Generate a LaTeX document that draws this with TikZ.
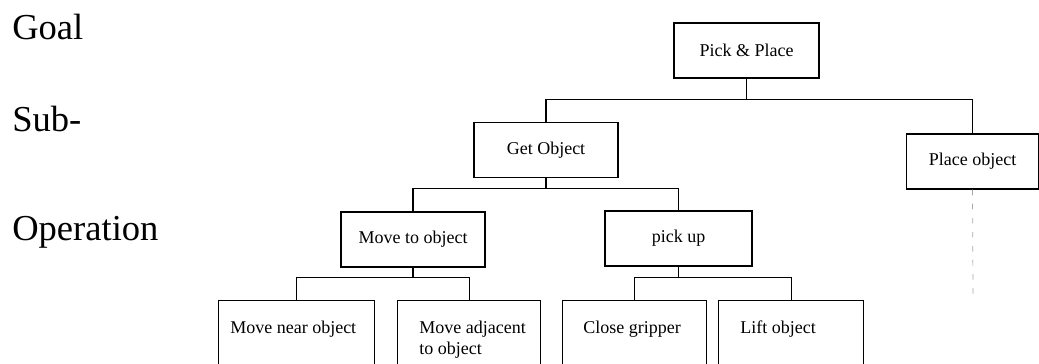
\documentclass[tikz,border=0pt]{standalone}
\usepackage{fontspec}
\setmainfont{Liberation Serif}
\usetikzlibrary{positioning}

\begin{document}
\begin{tikzpicture}[x=0.025cm, y=-0.025cm,
    box/.style={draw, line width=0.9pt, rectangle, minimum height=1.375cm, font=\fontsize{12.8}{15}\selectfont},
    leaf/.style={draw, line width=0.9pt, rectangle, anchor=north west, minimum height=2.5cm},
    leaftext/.style={anchor=north west, align=left, inner sep=0pt, font=\fontsize{12.8}{14.9}\selectfont},
    level/.style={anchor=base west, inner sep=0pt, font=\fontsize{26}{31}\selectfont},
    link/.style={line width=0.9pt}]
    \useasboundingbox (0,0) rectangle (1039,363);

    % Levels
    \node[level] (goallbl) at (12,39) {Goal};
    \node[level] (sublbl) at (12,131) {Sub-};
    \node[level] (oplbl) at (12,240) {Operation};

    % Goal
    \node[box, minimum width=3.625cm] (pick) at (746.5,50.5) {Pick \& Place};

    % Sub-goals
    \node[box, minimum width=3.6cm] (get) at (546,150) {Get Object};
    \node[box, minimum width=3.3cm] (place) at (972.5,161.5) {Place object};

    % Operations
    \node[box, minimum width=3.6cm] (moveto) at (413,239.5) {Move to object};
    \node[box, minimum width=3.675cm] (pickup) at (678.5,238.5) {pick up};

    % Leaves (cut off at the bottom)
    \node[leaf, minimum width=3.9cm] (near) at (218,300) {};
    \node[leaf, minimum width=3.575cm] (adj) at (397,300) {};
    \node[leaf, minimum width=3.6cm] (close) at (562,300) {};
    \node[leaf, minimum width=3.625cm] (lift) at (718,300) {};
    \node[leaftext] (neartxt) at ([xshift=0.3cm, yshift=-0.525cm]near.north west) {Move near object};
    \node[leaftext] (adjtxt) at ([xshift=0.55cm, yshift=-0.525cm]adj.north west) {Move adjacent\\to object};
    \node[leaftext] (closetxt) at ([xshift=0.525cm, yshift=-0.525cm]close.north west) {Close gripper};
    \node[leaftext] (lifttxt) at ([xshift=0.55cm, yshift=-0.525cm]lift.north west) {Lift object};

    % Tree links
    \draw[link] (pick.south) -- ++(0,21) -| (get.north);
    \draw[link] (pick.south) -- ++(0,21) -| (place.north);
    \draw[link] (get.south) -- ++(0,10) -| (moveto.north);
    \draw[link] (get.south) -- ++(0,10) -| (pickup.north);
    \draw[link] (moveto.south) -- ++(0,10) -| (near.north);
    \draw[link] (moveto.south) -- ++(0,10) -| (adj.north);
    \draw[link] (pickup.south) -- ++(0,11) -| (close.north);
    \draw[link] (pickup.south) -- ++(0,11) -| (lift.north);

    \coordinate (placeend) at (973,297);
    \draw[gray!70, line width=0.5pt, dash pattern=on 4pt off 6pt] (place.south) -- (placeend);
\end{tikzpicture}
\end{document}
